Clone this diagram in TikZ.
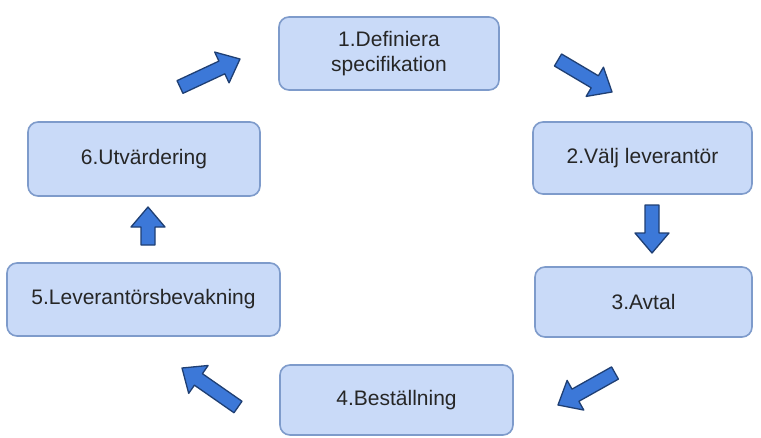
\documentclass[tikz,border=0pt]{standalone}
\usepackage{fontspec}
\setmainfont{Liberation Sans}
\usetikzlibrary{calc}
\definecolor{boxfill}{HTML}{C9DAF8}
\definecolor{boxline}{HTML}{7E9BCB}
\definecolor{arrfill}{HTML}{3C78D8}
\definecolor{arrline}{HTML}{1F3F73}
\definecolor{txt}{HTML}{262626}
\tikzset{
  stepbox/.style={draw=boxline, line width=1.6pt, fill=boxfill, rounded corners=10pt,
    text=txt, align=center, font=\fontsize{21}{25}\selectfont, inner sep=0pt},
  arrowshape/.style={fill=arrfill, draw=arrline, line width=1.3pt, line join=round},
}
\newcommand\blockarrow[2]{%
  \coordinate (h) at ($(#2)!20pt!(#1)$);
  \draw[arrowshape] ($(#1)!7pt!90:(#2)$) -- ($(h)!7pt!90:(#2)$) -- ($(h)!17pt!90:(#2)$)
    -- (#2) -- ($(h)!17pt!-90:(#2)$) -- ($(h)!7pt!-90:(#2)$) -- ($(#1)!7pt!-90:(#2)$) -- cycle;
}
\begin{document}
\begin{tikzpicture}[x=1pt,y=-1pt]
\useasboundingbox[fill=white] (0,0) rectangle (761,437);
\node[stepbox, minimum width=220pt, minimum height=73pt] (b1) at (389,53.5) {1.Definiera\\specifikation};
\node[stepbox, minimum width=219pt, minimum height=72pt] (b2) at (642.5,158) {2.Välj leverantör};
\node[stepbox, minimum width=217pt, minimum height=70pt] (b3) at (643.5,302) {3.Avtal};
\node[stepbox, minimum width=233pt, minimum height=70pt] (b4) at (396.5,400) {4.Beställning};
\node[stepbox, minimum width=273pt, minimum height=73pt] (b5) at (143.5,299.5) {5.Leverantörsbevakning};
\node[stepbox, minimum width=232pt, minimum height=74pt] (b6) at (144,159) {6.Utvärdering};
% arrow end points
\coordinate (a1s) at (180,87);  \coordinate (a1e) at (240,59);
\coordinate (a2s) at (558,60);  \coordinate (a2e) at (612,92);
\coordinate (a3s) at (652,205); \coordinate (a3e) at (652,253);
\coordinate (a4s) at (615,373); \coordinate (a4e) at (558,405);
\coordinate (a5s) at (238,407); \coordinate (a5e) at (182,368);
\coordinate (a6s) at (148,245); \coordinate (a6e) at (148,207);
\blockarrow{a1s}{a1e}
\blockarrow{a2s}{a2e}
\blockarrow{a3s}{a3e}
\blockarrow{a4s}{a4e}
\blockarrow{a5s}{a5e}
\blockarrow{a6s}{a6e}
\end{tikzpicture}
\end{document}
